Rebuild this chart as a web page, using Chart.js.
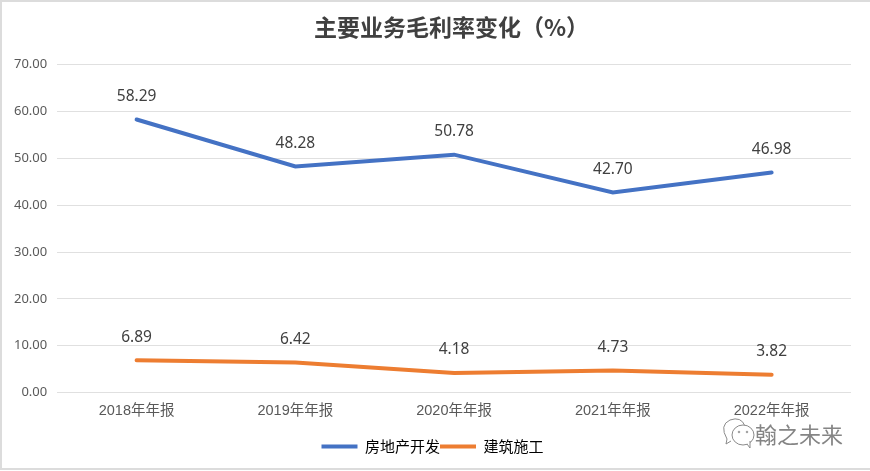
<!DOCTYPE html>
<html><head><meta charset="utf-8">
<style>
html,body{margin:0;padding:0;background:#fff}
#w{position:relative;width:870px;height:471px;overflow:hidden}
#b{position:absolute;left:0;top:0;width:880px;height:470px;border:2px solid #dcdcdc;box-sizing:border-box}
canvas{position:absolute;left:0;top:0}
#m{position:absolute;left:755px;top:418px;font:22px "Noto Sans CJK SC";color:#858585;line-height:30px}
#i{position:absolute;left:721px;top:415px}
</style>
<script src="https://cdn.jsdelivr.net/npm/chart.js@4"></script>
</head><body><div id="w"><div id="b"></div><canvas id="c" width="870" height="471"></canvas>
<svg id="i" width="34" height="34" fill="#fff" stroke="#8a8a8a" stroke-width="1"><path d="M6 24 Q-2 10 9 5 Q20 1 24 11 M6 24 L5 29 L10 26"/><ellipse cx="22" cy="20" rx="11" ry="10"/><path d="M26 29 L29 33 L29 26"/><circle cx="18" cy="17" r=".8"/><circle cx="26" cy="17" r=".8"/></svg>
<div id="m">翰之未来</div></div>
<script>
const categories=['2018年年报','2019年年报','2020年年报','2021年年报','2022年年报'];
const realEstate=[58.29,48.28,50.78,42.70,46.98];
const construction=[6.89,6.42,4.18,4.73,3.82];
const seriesNames=['房地产开发','建筑施工'];
const titleText='主要业务毛利率变化（%）';
const font='"Liberation Sans","Noto Sans CJK SC",sans-serif';
const labelPlugin={id:'labels',
 afterLayout(ch){ch.titleBlock.left+=48;ch.legend.left+=10;},
 afterDatasetsDraw(ch){
  const x=ch.ctx;x.save();x.font='15.5px "Noto Sans",'+font;x.fillStyle='#404040';x.textAlign='center';x.textBaseline='middle';
  ch.data.datasets.forEach((d,i)=>ch.getDatasetMeta(i).data.forEach((p,j)=>x.fillText(d.data[j].toFixed(2),p.x,p.y-23)));
  x.restore();}};
new Chart(document.getElementById('c'),{type:'line',
 data:{labels:categories,datasets:[
  {label:seriesNames[0],data:realEstate,borderColor:'#4472c4',backgroundColor:'#4472c4',borderWidth:4,pointRadius:0,tension:0,borderCapStyle:'round'},
  {label:seriesNames[1],data:construction,borderColor:'#ed7d31',backgroundColor:'#ed7d31',borderWidth:4,pointRadius:0,tension:0,borderCapStyle:'round'}]},
 plugins:[labelPlugin],
 options:{responsive:false,animation:false,
  layout:{padding:{left:4,right:19,top:9,bottom:7}},
  plugins:{tooltip:{enabled:false},
   title:{display:true,text:titleText,color:'#404040',font:{family:'"Noto Sans CJK SC"',size:23,weight:'bold'},padding:{top:4,bottom:24}},
   legend:{position:'bottom',labels:{color:'#595959',font:{family:'"Noto Sans CJK SC"',size:15},boxWidth:36,boxHeight:0,padding:0,
     generateLabels(ch){return ch.data.datasets.map((d,i)=>({text:d.label,fillStyle:d.borderColor,strokeStyle:d.borderColor,lineWidth:4,lineCap:'round',datasetIndex:i}));}}}},
  scales:{
   x:{offset:true,grid:{display:false},border:{display:false},afterFit(s){s.height+=17;},ticks:{color:'#595959',font:{family:font,size:14.5},padding:2,maxRotation:0}},
   y:{min:0,max:70,grid:{color:'#e0e0e0',lineWidth:1,drawTicks:false},border:{display:false},
      ticks:{stepSize:10,color:'#595959',font:{family:'"Noto Sans",'+font,size:13},padding:10,callback:v=>v.toFixed(2)}}}}});
</script></body></html>
